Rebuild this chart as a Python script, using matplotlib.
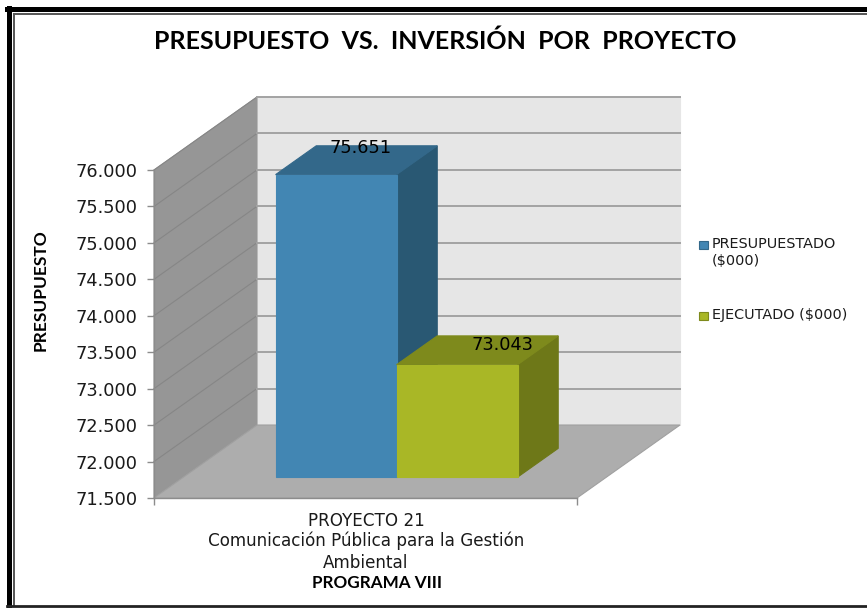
import matplotlib
matplotlib.use("Agg")
import matplotlib.pyplot as plt
from matplotlib.patches import Polygon, Rectangle

# datos
titulo = "PRESUPUESTO  VS.  INVERSIÓN  POR  PROYECTO"
series = ["PRESUPUESTADO\n($000)", "EJECUTADO ($000)"]
valores = [75651, 73043]
etiquetas = ["75.651", "73.043"]
y_ticks = [71500, 72000, 72500, 73000, 73500, 74000, 74500, 75000, 75500, 76000]
y_labels = ["71.500", "72.000", "72.500", "73.000", "73.500", "74.000", "74.500", "75.000", "75.500", "76.000"]
categoria = ["PROYECTO 21", "Comunicación Pública para la Gestión", "Ambiental"]

W, H = 867, 608
FONT_B = "Lato"
FONT = "DejaVu Sans"
plt.rcParams["font.family"] = FONT

col_frente = ["#4286B3", "#A9B726"]
col_arriba = ["#33688A", "#7E8A1C"]
col_lado = ["#295873", "#6E7818"]

fig = plt.figure(figsize=(W / 100, H / 100), dpi=100)


def fx(x):
    return x / W


def fy(y):
    return 1 - y / H


# ejes = plano frontal del grafico
X0, X1, Y0, Y1 = 154, 577, 170, 498
ax = fig.add_axes([fx(X0), fy(Y1), (X1 - X0) / W, (Y1 - Y0) / H])
ax.set_xlim(0, 1)
ax.set_ylim(71500, 76000)
ax.patch.set_visible(False)

# profundidad oblicua en unidades de datos
DX = 103 / (X1 - X0)
DY = 73 / (Y1 - Y0) * 4500


def p(x, v, d):
    return (x + d * DX, v + d * DY)


def cara(puntos, color, borde=None, z=1):
    ax.add_patch(Polygon(puntos, closed=True, facecolor=color, edgecolor=borde or color,
                         linewidth=0.8, clip_on=False, zorder=z))


vmin, vmax = y_ticks[0], y_ticks[-1]

# paredes y piso
cara([p(0, vmin, 1), p(1, vmin, 1), p(1, vmax, 1), p(0, vmax, 1)], "#E6E6E6", z=1)
cara([p(0, vmin, 0), p(0, vmin, 1), p(0, vmax, 1), p(0, vmax, 0)], "#969696", z=1)
cara([p(0, vmin, 0), p(1, vmin, 0), p(1, vmin, 1), p(0, vmin, 1)], "#ADADAD", "#A0A0A0", z=2)

for v in y_ticks:
    a = p(0, v, 0)
    b = p(0, v, 1)
    c = p(1, v, 1)
    if v > vmin:
        ax.plot([a[0], b[0]], [a[1], b[1]], color="#868686", lw=0.8, clip_on=False, zorder=1.5)
        ax.plot([b[0], c[0]], [b[1], c[1]], color="#A3A3A3", lw=1.4, clip_on=False, zorder=1.5)

# barras
ancho = 0.286
izq = 0.218
d0 = 0.285
d1 = 0.68
etq_x = [0.394, 0.642]
etq_d = [0.644, 0.56]
for i, val in enumerate(valores):
    x0 = izq + i * ancho
    x1 = x0 + ancho
    z = 3 + i
    cara([p(x1, vmin, d0), p(x1, vmin, d1), p(x1, val, d1), p(x1, val, d0)], col_lado[i], z=z)
    cara([p(x0, val, d0), p(x1, val, d0), p(x1, val, d1), p(x0, val, d1)], col_arriba[i], z=z)
    cara([p(x0, vmin, d0), p(x1, vmin, d0), p(x1, val, d0), p(x0, val, d0)], col_frente[i], z=z + 0.1)
    lx, ly = p(x0 + ancho * etq_x[i], val, etq_d[i])
    ax.text(lx, ly, etiquetas[i], ha="center", va="center", fontsize=12.8, color="black", zorder=10)

# ejes
ax.set_yticks(y_ticks)
ax.set_yticklabels(y_labels, fontsize=12.8, color="#1a1a1a")
ax.set_xticks([0, 1])
ax.set_xticklabels(["", ""])
ax.tick_params(axis="both", color="#8C8C8C", length=5, width=1, pad=7)
for s in ["top", "right"]:
    ax.spines[s].set_visible(False)
for s in ["left", "bottom"]:
    ax.spines[s].set_color("#8C8C8C")
    ax.spines[s].set_linewidth(1)
    ax.spines[s].set_zorder(5)

# textos
fig.text(fx(445), fy(41), titulo, ha="center", va="center", family=FONT_B, fontsize=18,
         fontweight="bold", color="black")
fig.text(fx(41), fy(290), "PRESUPUESTO", rotation=90, ha="center", va="center", family=FONT_B,
         fontsize=12.5, fontweight="bold", color="black")
cat_y = [521, 541, 563]
for t, yy in zip(categoria, cat_y):
    fig.text(fx(366), fy(yy), t, ha="center", va="center", fontsize=12.1, color="#1a1a1a")
fig.text(fx(377), fy(583), "PROGRAMA VIII", ha="center", va="center", family=FONT_B, fontsize=12.3,
         fontweight="bold", color="black")

# leyenda
ley_y = [245, 316]
for i, s in enumerate(series):
    fig.patches.append(Rectangle((fx(699), fy(ley_y[i] + 4)), 9 / W, 8 / H, transform=fig.transFigure,
                                 facecolor=col_frente[i], edgecolor=col_arriba[i], linewidth=0.8, figure=fig))
    fig.text(fx(712), fy(ley_y[i] - 8), s, ha="left", va="top", fontsize=10.4,
             color="#1a1a1a", linespacing=1.3)

# marco de la imagen
fig.add_artist(plt.Line2D([fx(9), fx(9)], [fy(8), fy(608)], color="black", lw=3.6))
fig.add_artist(plt.Line2D([fx(7), fx(867)], [fy(9), fy(9)], color="black", lw=3.6))
fig.add_artist(plt.Line2D([fx(14), fx(14)], [fy(14), fy(605)], color="#555555", lw=1.4))
fig.add_artist(plt.Line2D([fx(14), fx(867)], [fy(14), fy(14)], color="#555555", lw=1.4))
fig.add_artist(plt.Line2D([fx(7), fx(867)], [fy(606), fy(606)], color="#222222", lw=2))

fig.savefig("out.png", dpi=100)
